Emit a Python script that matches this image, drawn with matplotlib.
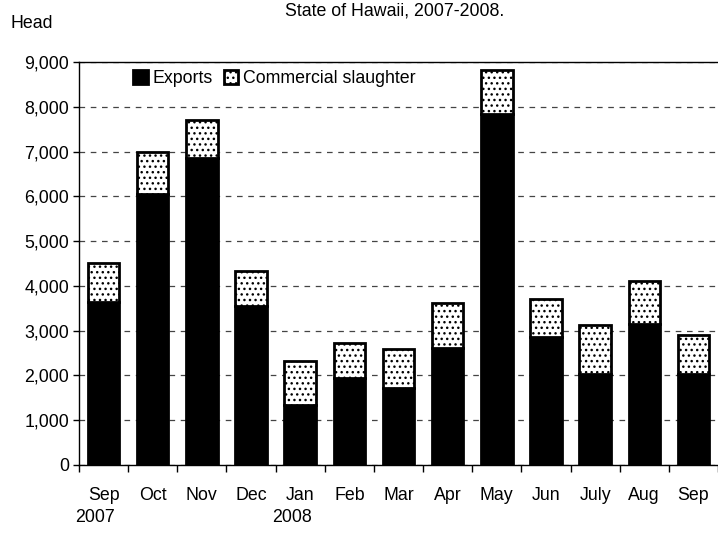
import numpy as np
import matplotlib
matplotlib.use('Agg')
import matplotlib.pyplot as plt

plt.rcParams['font.family'] = ['Liberation Sans', 'DejaVu Sans']
plt.rcParams['hatch.linewidth'] = 1.0

months = ['Sep', 'Oct', 'Nov', 'Dec', 'Jan', 'Feb', 'Mar', 'Apr',
          'May', 'Jun', 'July', 'Aug', 'Sep']
years = {0: '2007', 4: '2008'}
exports = [3650, 6050, 6850, 3550, 1340, 1950, 1730, 2620,
           7830, 2850, 2030, 3150, 2030]
totals = [4500, 7000, 7710, 4330, 2330, 2730, 2590, 3620,
          8830, 3710, 3130, 4100, 2910]
slaughter = [t - e for t, e in zip(totals, exports)]

fs = 12.8

fig = plt.figure(figsize=(7.18, 5.33), dpi=100)
ax = fig.add_axes([0.110, 0.1276, 0.890, 0.7561])

x = np.arange(len(months))
w = 0.64
b1 = ax.bar(x, exports, w, color='black', edgecolor='black', linewidth=2,
            label='Exports', zorder=3)
b2 = ax.bar(x, slaughter, w, bottom=exports, color='white', edgecolor='black',
            hatch='...', linewidth=2, label='Commercial slaughter', zorder=3)

ax.set_xlim(-0.5, len(months) - 0.5)
ax.set_ylim(0, 9000)
ax.set_yticks(np.arange(0, 9001, 1000))
ax.set_yticklabels([f'{v:,}' for v in range(0, 9001, 1000)], fontsize=fs)
ax.yaxis.grid(True, linestyle=(0, (4.5, 4.5)), color='#444444', linewidth=0.9, zorder=0)
ax.tick_params(axis='y', length=4, width=1, pad=3)

ax.set_xticks(x)
ax.set_xticklabels(months, fontsize=fs)
ax.set_xticks(np.arange(-0.5, len(months), 1), minor=True)
ax.tick_params(axis='x', which='major', length=0, pad=16)
ax.tick_params(axis='x', which='minor', length=5, width=1)

for i, yr in years.items():
    ax.text(i - 0.17, -0.108, yr, transform=ax.get_xaxis_transform(),
            ha='center', va='top', fontsize=fs)

ax.spines['right'].set_visible(False)
for s in ['left', 'bottom', 'top']:
    ax.spines[s].set_linewidth(1)

ax.legend(loc='upper left', bbox_to_anchor=(0.06, 1.02), ncol=2, frameon=False,
          fontsize=fs, handlelength=0.8, handleheight=0.8, handletextpad=0.3,
          columnspacing=0.6)

fig.text(0.55, 1 - 15 / 533, 'State of Hawaii, 2007-2008.', ha='center',
         va='baseline', fontsize=fs)
fig.text(0.014, 1 - 28 / 533, 'Head', ha='left', va='baseline', fontsize=fs)

fig.savefig('out.png', dpi=100)
